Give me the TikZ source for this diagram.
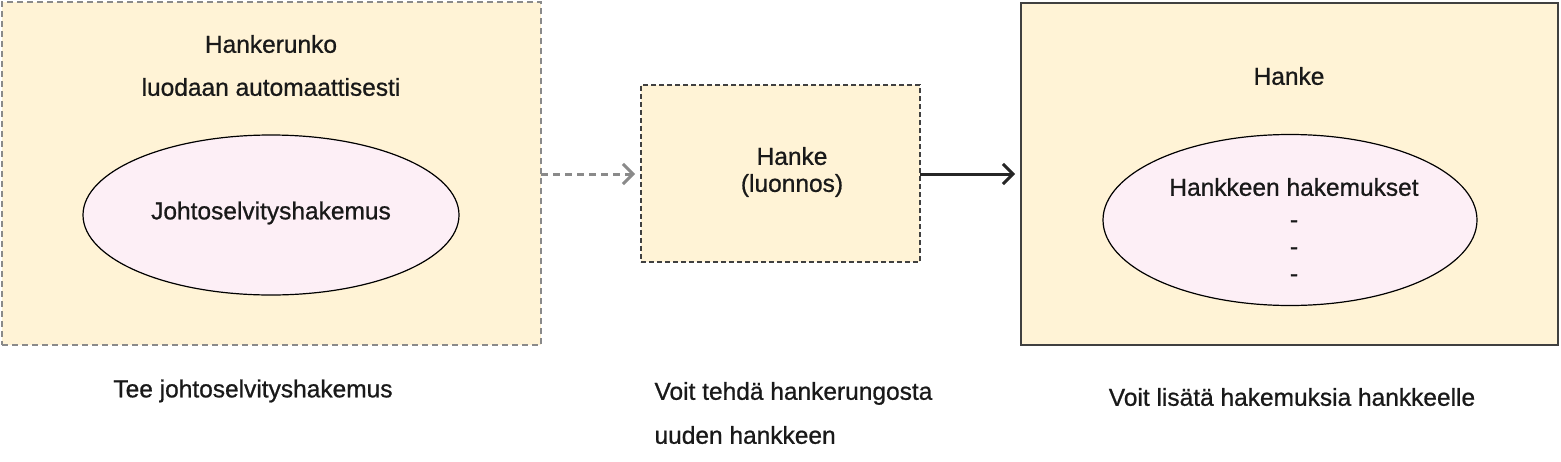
\documentclass[tikz,border=0pt]{standalone}
\usepackage{fontspec}
\setmainfont{Liberation Sans}[UprightFeatures={FakeBold=0.8}]
\usetikzlibrary{arrows.meta,shapes.geometric}
\definecolor{boxfill}{HTML}{FFF3D6}
\definecolor{ovalfill}{HTML}{FDEFF6}
\definecolor{dashgray}{HTML}{8A8A8A}
\tikzset{
    box/.style={draw, fill=boxfill, line width=1.2pt, minimum width=#1, outer sep=0pt},
    oval/.style={ellipse, draw, fill=ovalfill, line width=1.2pt},
    txt/.style={font=\fontsize{24.5}{27}\selectfont, text=black!90},
    barb/.style={-{Straight Barb[length=10pt, width=20pt, line width=3pt]}, line width=3pt},
}
\begin{document}
\begin{tikzpicture}[x=1pt, y=-1pt]
    \useasboundingbox (0,0) rectangle (1561,461);
    % boxes
    \node[box=539pt, minimum height=343pt, draw=dashgray, dash pattern=on 6pt off 4pt] (frame) at (271.5,173.5) {};
    \node[box=279pt, minimum height=177pt, draw=black!75, dash pattern=on 5pt off 3pt] (draft) at (780.5,173.5) {};
    \node[box=537pt, minimum height=342pt, draw=black!75] (project) at (1289.5,174) {};
    % ellipses
    \node[oval, minimum width=376pt, minimum height=160pt] (appl) at (271,215) {};
    \node[oval, minimum width=374pt, minimum height=171pt] (appls) at (1290,220) {};
    % texts
    \node[txt] (frametitle) at (271,44) {Hankerunko};
    \node[txt] (framesub) at (271,87) {luodaan automaattisesti};
    \node[txt] (appltext) at (271,213) {Johtoselvityshakemus};
    \node[txt, align=center] (drafttext) at (792,172) {Hanke\\(luonnos)};
    \node[txt] (projtitle) at (1289,76) {Hanke};
    \node[txt] (applstext) at (1294,187) {Hankkeen hakemukset};
    \foreach \y/\n in {224/a, 251/b, 278/c}
        \node[txt] (dash\n) at (1294,\y) {-};
    % captions
    \node[txt] (cap1) at (253,391) {Tee johtoselvityshakemus};
    \node[txt, align=left, anchor=west] (cap2) at (651,413) {Voit tehdä hankerungosta\\[17pt]uuden hankkeen};
    \node[txt] (cap3) at (1292,397) {Voit lisätä hakemuksia hankkeelle};
    % arrows
    \draw[barb, dashgray, dash pattern=on 7pt off 5pt] (frame.east |- 0,174) -- ([xshift=-6pt]draft.west |- 0,174);
    \draw[barb, black!85] (draft.east |- 0,174) -- ([xshift=-6pt]project.west |- 0,174);
\end{tikzpicture}
\end{document}
